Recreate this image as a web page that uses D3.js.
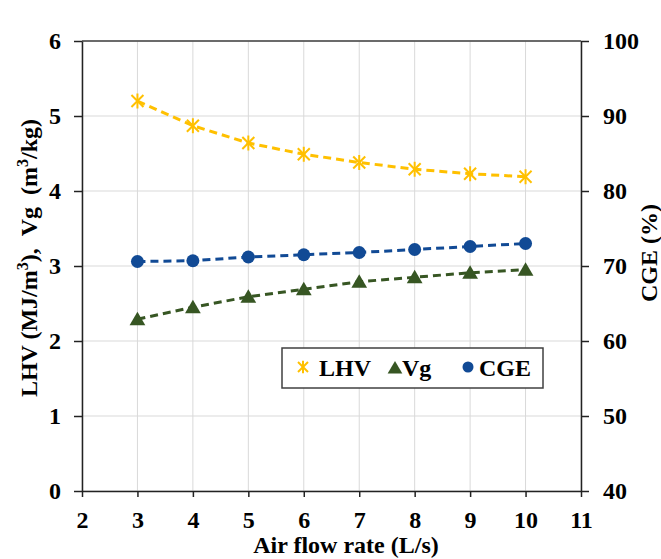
<!DOCTYPE html>
<html>
<head>
<meta charset="utf-8">
<script src="https://cdn.jsdelivr.net/npm/d3@7"></script>
</head>
<body style="margin:0;background:#fff">
<svg id="chart"></svg>
<script>
const AIRFLOW = [3, 4, 5, 6, 7, 8, 9, 10];
const LHV = [5.20, 4.87, 4.64, 4.49, 4.38, 4.29, 4.23, 4.19];
const VG  = [2.29, 2.45, 2.59, 2.69, 2.79, 2.85, 2.91, 2.95];
const CGE = [70.6, 70.7, 71.2, 71.5, 71.8, 72.2, 72.6, 73.0];

const X_TICKS  = [2, 3, 4, 5, 6, 7, 8, 9, 10, 11];
const YL_TICKS = [0, 1, 2, 3, 4, 5, 6];
const YR_TICKS = [40, 50, 60, 70, 80, 90, 100];

const COLORS = { LHV: "#FFC000", Vg: "#375623", CGE: "#114A95" };
const FONT = "Liberation Serif";
const FS = 24;

const W = 661, H = 559;
const M = { left: 82, right: 80, top: 41, bottom: 68 };
const PW = W - M.left - M.right;
const PH = H - M.top - M.bottom;

const svg = d3.select("#chart").attr("width", W).attr("height", H);

// every text gets its font set on itself
function txt(g) {
  return g.append("text").attr("font-family", FONT).attr("font-weight", "bold")
    .attr("font-size", FS).attr("fill", "#000");
}

const x  = d3.scaleLinear().domain([2, 11]).range([M.left, M.left + PW]);
const yL = d3.scaleLinear().domain([0, 6]).range([M.top + PH, M.top]);
const yR = d3.scaleLinear().domain([40, 100]).range([M.top + PH, M.top]);

// grid
const grid = svg.append("g").attr("stroke", "#d9d9d9").attr("stroke-width", 1);
X_TICKS.forEach((d) => {
  grid.append("line").attr("x1", x(d)).attr("x2", x(d))
    .attr("y1", M.top).attr("y2", M.top + PH);
});
YL_TICKS.forEach((d) => {
  grid.append("line").attr("x1", M.left).attr("x2", M.left + PW)
    .attr("y1", yL(d)).attr("y2", yL(d));
});

// frame top
svg.append("line").attr("x1", M.left).attr("x2", M.left + PW)
  .attr("y1", M.top).attr("y2", M.top).attr("stroke", "#404040").attr("stroke-width", 1.3);

function styleAxis(g) {
  g.attr("font-family", FONT).attr("font-size", FS).attr("font-weight", "bold");
  g.selectAll("path").attr("stroke", "#222").attr("stroke-width", 1.5);
  g.selectAll("line").attr("stroke", "#222").attr("stroke-width", 1.5);
  g.selectAll("text").attr("fill", "#000").attr("font-family", FONT)
    .attr("font-weight", "bold").attr("font-size", FS);
}

const fmt = d3.format("d");

svg.append("g").attr("transform", `translate(0,${M.top + PH})`)
  .call(d3.axisBottom(x).tickValues(X_TICKS).tickFormat(fmt).tickSize(6).tickSizeOuter(0).tickPadding(14))
  .call(styleAxis);

svg.append("g").attr("transform", `translate(${M.left},0)`)
  .call(d3.axisLeft(yL).tickValues(YL_TICKS).tickFormat(fmt).tickSize(8).tickSizeOuter(0).tickPadding(13))
  .call(styleAxis);

svg.append("g").attr("transform", `translate(${M.left + PW},0)`)
  .call(d3.axisRight(yR).tickValues(YR_TICKS).tickFormat(fmt).tickSize(8).tickSizeOuter(0).tickPadding(14))
  .call(styleAxis);

// series
const line = (ys) => d3.line().x((d, i) => x(AIRFLOW[i])).y((d) => ys(d));

function drawLine(vals, ys, color) {
  svg.append("path").datum(vals)
    .attr("d", line(ys))
    .attr("fill", "none")
    .attr("stroke", color)
    .attr("stroke-width", 3)
    .attr("stroke-dasharray", "8,5");
}

function asterisk(g, cx, cy, s, color) {
  const a = g.append("g").attr("transform", `translate(${cx},${cy})`)
    .attr("stroke", color).attr("stroke-width", 2);
  a.append("line").attr("x1", -s).attr("y1", -s).attr("x2", s).attr("y2", s);
  a.append("line").attr("x1", -s).attr("y1", s).attr("x2", s).attr("y2", -s);
  a.append("line").attr("x1", 0).attr("y1", -s * 1.25).attr("x2", 0).attr("y2", s * 1.25);
}

function triangle(g, cx, cy, r, color) {
  g.append("path")
    .attr("d", `M${cx},${cy - r}L${cx + r * 1.05},${cy + r * 0.8}L${cx - r * 1.05},${cy + r * 0.8}Z`)
    .attr("fill", color);
}

drawLine(LHV, yL, COLORS.LHV);
drawLine(VG, yL, COLORS.Vg);
drawLine(CGE, yR, COLORS.CGE);

const marks = svg.append("g");
LHV.forEach((d, i) => asterisk(marks, x(AIRFLOW[i]), yL(d), 6, COLORS.LHV));
VG.forEach((d, i) => triangle(marks, x(AIRFLOW[i]), yL(d), 7.5, COLORS.Vg));
CGE.forEach((d, i) => {
  marks.append("circle").attr("cx", x(AIRFLOW[i])).attr("cy", yR(d))
    .attr("r", 6.5).attr("fill", COLORS.CGE);
});

// legend
const lg = svg.append("g");
lg.append("rect").attr("x", 282).attr("y", 348).attr("width", 261).attr("height", 40)
  .attr("fill", "#fff").attr("stroke", "#404040").attr("stroke-width", 1.5);
asterisk(lg, 303, 367, 5, COLORS.LHV);
txt(lg).attr("x", 319).attr("y", 376).text("LHV");
triangle(lg, 395, 368, 7, COLORS.Vg);
txt(lg).attr("x", 402).attr("y", 376).text("Vg");
lg.append("circle").attr("cx", 468).attr("cy", 367).attr("r", 5.5).attr("fill", COLORS.CGE);
txt(lg).attr("x", 479).attr("y", 376).text("CGE");

// axis titles
txt(svg).attr("x", 346).attr("y", 553).attr("text-anchor", "middle")
  .text("Air flow rate (L/s)");

const yt = txt(svg)
  .attr("transform", "translate(37,258) rotate(-90)")
  .attr("text-anchor", "middle");
yt.append("tspan").text("LHV (MJ/m");
yt.append("tspan").attr("font-size", 16).attr("dy", -9).text("3");
yt.append("tspan").attr("dy", 9).text("),\u00a0\u00a0Vg\u00a0\u00a0(m");
yt.append("tspan").attr("font-size", 16).attr("dy", -9).text("3");
yt.append("tspan").attr("dy", 9).text("/kg)");

txt(svg)
  .attr("transform", "translate(657,253) rotate(-90)")
  .attr("text-anchor", "middle").text("CGE (%)");
</script>
</body>
</html>
